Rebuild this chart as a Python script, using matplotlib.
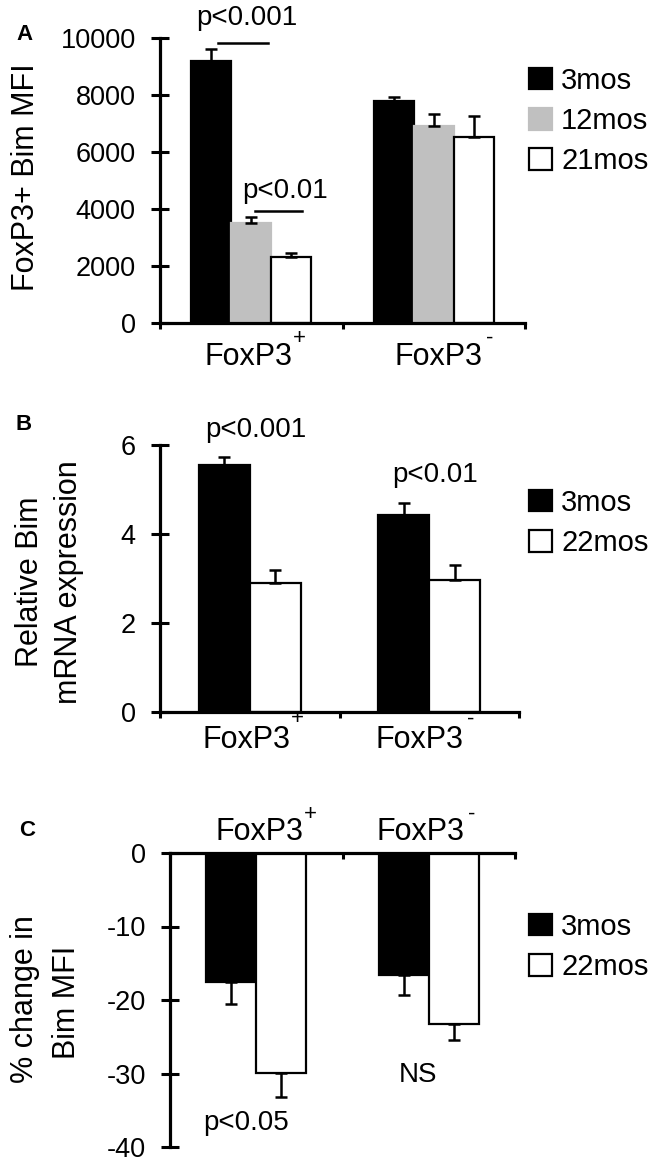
import matplotlib
matplotlib.use("Agg")
import matplotlib.pyplot as plt
from matplotlib.patches import Patch

plt.rcParams["font.family"] = ["Liberation Sans", "DejaVu Sans"]
plt.rcParams["axes.unicode_minus"] = False

# ---------------------------------------------------------------- data
groups = ["FoxP3", "FoxP3"]
group_signs = ["+", "-"]

# A: FoxP3+ Bim MFI
a_labels = ["3mos", "12mos", "21mos"]
a_3mos = [9200, 7800]
a_12mos = [3500, 6920]
a_21mos = [2300, 6510]
a_3mos_err = [430, 140]
a_12mos_err = [230, 430]
a_21mos_err = [150, 750]
a_ticks = [0, 2000, 4000, 6000, 8000, 10000]

# B: relative Bim mRNA expression
b_labels = ["3mos", "22mos"]
b_3mos = [5.55, 4.43]
b_22mos = [2.89, 2.96]
b_3mos_err = [0.17, 0.26]
b_22mos_err = [0.31, 0.35]
b_ticks = [0, 2, 4, 6]

# C: % change in Bim MFI
c_labels = ["3mos", "22mos"]
c_3mos = [-17.6, -16.6]
c_22mos = [-29.9, -23.2]
c_3mos_err = [3.0, 2.7]
c_22mos_err = [3.3, 2.2]
c_ticks = [-40, -30, -20, -10, 0]

BLACK = "#000000"
GRAY = "#c0c0c0"
WHITE = "#ffffff"
PX = 0.72  # points per pixel at 100 dpi

W, H = 662, 1165
fig = plt.figure(figsize=(W / 100, H / 100), dpi=100)


def ax_px(left, top, right, bottom):
    return fig.add_axes([left / W, 1 - bottom / H, (right - left) / W, (bottom - top) / H])


def style(ax, ticks, top_axis=False):
    ax.set_xlim(-0.5, 1.5)
    for s in ("right", "top", "bottom", "left"):
        ax.spines[s].set_linewidth(2.3)
    ax.spines["right"].set_visible(False)
    if top_axis:
        ax.spines["bottom"].set_visible(False)
        ax.xaxis.tick_top()
    else:
        ax.spines["top"].set_visible(False)
    ax.set_yticks(ticks)
    ax.set_ylim(ticks[0], ticks[-1])
    ax.tick_params(axis="y", direction="inout", length=13, width=2.2,
                   labelsize=19.5, pad=11)
    ax.set_xticks([-0.5, 0.5, 1.5])
    ax.set_xticklabels([])
    ax.tick_params(axis="x", which="major", direction="in" if top_axis else "out",
                   length=4.5, width=2.2)


def group_labels(ax, base_dy, sup_dy, dxs, y_axis=0):
    """Category names with a raised sign, offsets in pixels from the axis."""
    for i, (name, sign) in enumerate(zip(groups, group_signs)):
        ax.annotate(name, xy=(i, y_axis), xycoords=("data", "axes fraction"),
                    xytext=(dxs[i] * PX, base_dy * PX), textcoords="offset points",
                    ha="center", va="baseline", fontsize=22, annotation_clip=False)
        ax.annotate(sign, xy=(i, y_axis), xycoords=("data", "axes fraction"),
                    xytext=((dxs[i] + 51) * PX, sup_dy * PX),
                    textcoords="offset points", ha="center", va="center",
                    fontsize=16, annotation_clip=False)


def bars(ax, xs, vals, errs, color, w, upward=True):
    edge = GRAY if color == GRAY else BLACK
    ax.bar(xs, vals, width=w, color=color, edgecolor=edge, linewidth=1.6, zorder=2)
    zeros = [0] * len(errs)
    yerr = [zeros, errs] if upward else [errs, zeros]
    ax.errorbar(xs, vals, yerr=yerr, fmt="none", ecolor=BLACK, elinewidth=1.8,
                capsize=4, capthick=1.8, zorder=3)


def legend(handles, labels, y_center):
    fig.legend(handles, labels, loc="center left",
               bbox_to_anchor=(529 / W, 1 - y_center / H), frameon=False,
               borderpad=0, borderaxespad=0, handlelength=0.8,
               handleheight=0.75, handletextpad=0.3, labelspacing=0.42,
               fontsize=21)


def patch(color):
    return Patch(facecolor=color, edgecolor=GRAY if color == GRAY else BLACK,
                 linewidth=1.6)


def ylabel(x_base, y_center, text):
    fig.text(x_base / W, 1 - y_center / H, text, rotation=90,
             rotation_mode="anchor", ha="center", va="baseline", fontsize=22)


def panel_letter(x, y, letter):
    fig.text(x / W, 1 - y / H, letter, ha="center", va="center", fontsize=16,
             fontweight="bold")


x0 = [0, 1]

# ---------------------------------------------------------------- A
ax = ax_px(160, 38, 525, 323)
w = 0.22
bars(ax, [x - w for x in x0], a_3mos, a_3mos_err, BLACK, w)
bars(ax, x0, a_12mos, a_12mos_err, GRAY, w)
bars(ax, [x + w for x in x0], a_21mos, a_21mos_err, WHITE, w)
style(ax, a_ticks)
group_labels(ax, -42, -15, [-3, 5])
ax.plot([-0.18, 0.09], [9814, 9814], color=BLACK, lw=1.8, clip_on=False)
ax.text(-0.026, 10700, "p<0.001", ha="center", va="center", fontsize=20,
        clip_on=False)
ax.plot([0.02, 0.28], [3936, 3936], color=BLACK, lw=1.8)
ax.text(0.185, 4627, "p<0.01", ha="center", va="center", fontsize=20)
legend([patch(BLACK), patch(GRAY), patch(WHITE)], a_labels, 121)
ylabel(34, 177, "FoxP3+ Bim MFI")
panel_letter(24, 34, "A")

# ---------------------------------------------------------------- B
ax = ax_px(160, 445, 519, 712)
w = 0.283
bars(ax, [x - w / 2 for x in x0], b_3mos, b_3mos_err, BLACK, w)
bars(ax, [x + w / 2 for x in x0], b_22mos, b_22mos_err, WHITE, w)
style(ax, b_ticks)
group_labels(ax, -36, -7, [-3, -10])
ax.text(0.035, 6.34, "p<0.001", ha="center", va="center", fontsize=20,
        clip_on=False)
ax.text(1.03, 5.33, "p<0.01", ha="center", va="center", fontsize=20)
legend([patch(BLACK), patch(WHITE)], b_labels, 523)
ylabel(38, 582, "Relative Bim")
ylabel(77, 582, "mRNA expression")
panel_letter(24, 425, "B")

# ---------------------------------------------------------------- C
ax = ax_px(170, 853, 515, 1147)
w = 0.29
bars(ax, [x - w / 2 for x in x0], c_3mos, c_3mos_err, BLACK, w, upward=False)
bars(ax, [x + w / 2 for x in x0], c_22mos, c_22mos_err, WHITE, w, upward=False)
style(ax, c_ticks, top_axis=True)
group_labels(ax, 13, 39, [3, -8], y_axis=1)
ax.text(-0.06, -36.7, "p<0.05", ha="center", va="center", fontsize=20)
ax.text(0.94, -30.2, "NS", ha="center", va="center", fontsize=20)
legend([patch(BLACK), patch(WHITE)], c_labels, 947)
ylabel(33, 999, "% change in")
ylabel(75, 1002, "Bim MFI")
panel_letter(27, 831, "C")

fig.savefig("out.png", dpi=100, facecolor="white")
